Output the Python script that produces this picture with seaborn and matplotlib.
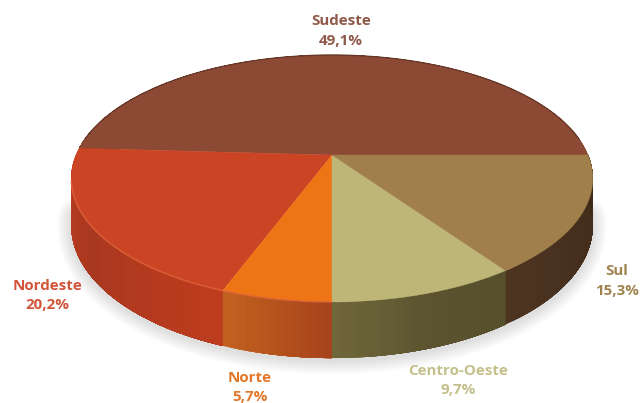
import numpy as np
import pandas as pd
import matplotlib
matplotlib.use("Agg")
import matplotlib.pyplot as plt
import seaborn as sns

# Share of each region, listed counter-clockwise from the right-hand edge
regions = ["Sudeste", "Nordeste", "Norte", "Centro-Oeste", "Sul"]
shares = [49.1, 20.2, 5.7, 9.7, 15.3]
share_labels = ["49,1%", "20,2%", "5,7%", "9,7%", "15,3%"]

top_colors = ["#8c4934", "#cb4423", "#ee7416", "#bdb677", "#a07f4b"]
wall_colors = [
    ["#5c3a24", "#7a3a24"],
    ["#c2401f", "#a93820", "#bd3c1e"],
    ["#c2611f", "#a8441c"],
    ["#6f673a", "#5c5430", "#564f2c"],
    ["#4c3421", "#3e2a17"],
]
label_colors = ["#8f5a4a", "#d2553a", "#e2772a", "#c4c08c", "#a08450"]
label_xy = [(341, 21, 41), (47, 286, 305), (250, 378, 397), (458, 371, 390), (617, 271, 291)]

CX, CY = 332, 155
RX, RY = 256, 119
TILT = 0.19
DEPTH = 45.5

sns.set_theme(style="white")
plt.rcParams["font.family"] = ["Open Sans", "DejaVu Sans"]

table = pd.DataFrame({"region": regions, "share": shares, "label": share_labels})
table["sweep"] = table["share"] / table["share"].sum() * 2 * np.pi
table["end"] = table["sweep"].cumsum()
table["start"] = table["end"] - table["sweep"]


def project(theta, drop=0.0):
    """Perspective view of a point on the disc rim; drop moves it down the wall."""
    w = 1 + TILT * np.sin(theta)
    return CX + RX * np.cos(theta) / w, CY - RY * np.sin(theta) / w + drop * DEPTH / w


fig = plt.figure(figsize=(6.43, 4.03), dpi=100)
ax = fig.add_axes([0, 0, 1, 1])
ax.set_xlim(0, 643)
ax.set_ylim(403, 0)
ax.axis("off")

# Soft shadow under the front of the disc
shadow = np.linspace(np.radians(185), np.radians(355), 200)
sx, sy = project(shadow, 1.0)
for lw in np.linspace(3, 20, 8):
    ax.plot(sx, sy + 2, color="#707070", alpha=0.028, lw=lw, solid_capstyle="round", zorder=1)

# Side wall: each strip runs on to the slice end and the next one paints over it,
# which keeps seams out of the gradient
for (_, row), stops in zip(table.iterrows(), wall_colors):
    n = max(int(row["sweep"] * 40), 2)
    edges = np.linspace(row["start"], row["end"], n + 1)
    shades = sns.blend_palette(stops, n)
    for a, shade in zip(edges[:-1], shades):
        t = np.linspace(a, row["end"], 60)
        x0, y0 = project(t)
        x1, y1 = project(t, 1.0)
        ax.fill(np.r_[x0, x1[::-1]], np.r_[y0, y1[::-1]], color=shade, lw=0, zorder=2)

# Upper face of each slice
for (_, row), color in zip(table.iterrows(), top_colors):
    t = np.linspace(row["start"], row["end"], 160)
    x, y = project(t)
    ax.fill(np.r_[CX, x], np.r_[CY, y], color=color, lw=0.3, zorder=3)

# Rim lines: dark along the back, lighter along the front of the warm slices
back = np.linspace(np.radians(8), np.radians(172), 200)
ax.plot(*project(back), color="#653828", lw=0.9, zorder=4)
front = np.linspace(np.radians(192), table.loc[2, "end"], 120)
ax.plot(*project(front), color="#e0643a", lw=1.1, alpha=0.8, zorder=4)

# Region name and share under it
for (_, row), color, (x, y_name, y_share) in zip(table.iterrows(), label_colors, label_xy):
    ax.text(x, y_name, row["region"], color=color, fontsize=10.9, fontweight="bold",
            ha="center", va="center", zorder=5)
    ax.text(x, y_share, row["label"], color=color, fontsize=10.9, fontweight="bold",
            ha="center", va="center", zorder=5)

fig.savefig("out.png", dpi=100)
